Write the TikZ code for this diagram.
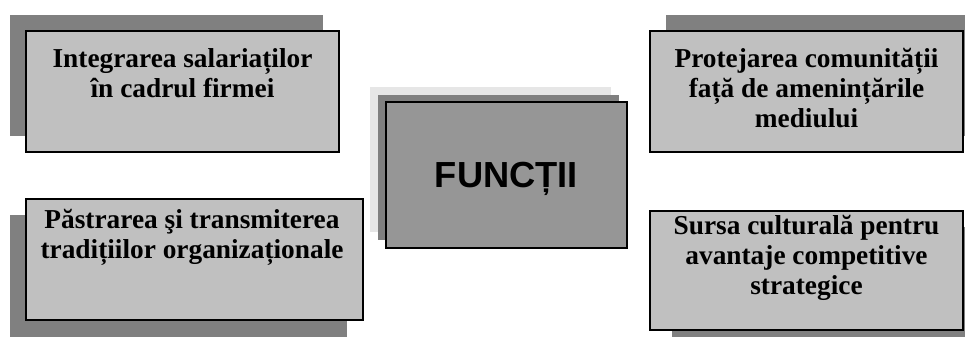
\documentclass[tikz,border=0pt]{standalone}
\usepackage{fontspec}
\setmainfont{Liberation Serif}
\newfontfamily\arialfont{Liberation Sans}
\definecolor{boxfill}{HTML}{C0C0C0}
\definecolor{shadowgray}{HTML}{808080}
\definecolor{centerfill}{HTML}{969696}
\definecolor{lightshadow}{HTML}{E6E6E6}
\begin{document}
\begin{tikzpicture}[x=0.75pt,y=-0.75pt,
  shade/.style={fill=shadowgray,draw=none},
  lshade/.style={fill=lightshadow,draw=none},
  mainbox/.style={fill=boxfill,draw=black,line width=1.6pt},
  centerbox/.style={fill=centerfill,draw=black,line width=1.6pt},
  txt/.style={font=\bfseries\fontsize{20.5}{22.2}\selectfont,align=center,inner sep=0pt,anchor=base},
  bigtxt/.style={font=\arialfont\bfseries\fontsize{27.2}{30}\selectfont,inner sep=0pt,anchor=base}]
\clip (0,0) rectangle (965,336);
\fill[white] (0,0) rectangle (965,336);
% top-left
\fill[shade] (10,15) rectangle (323,136);
\draw[mainbox] (26,31) rectangle (339,152);
\node[txt] (t1) at (182.5,97) {Integrarea salariaților\\în cadrul firmei};
% bottom-left
\fill[shade] (10,215) rectangle (347,340);
\draw[mainbox] (26,199) rectangle (363,320);
\node[txt] (t2) at (192,258) {Păstrarea şi transmiterea\\tradițiilor organizaționale};
% center
\fill[lshade] (370,87) rectangle (611,232);
\fill[shade] (378,95) rectangle (619,240);
\draw[centerbox] (386,102) rectangle (627,248);
\node[bigtxt] (tc) at (506.5,187) {FUNCȚII};
% top-right
\fill[shade] (666,15) rectangle (985,136);
\draw[mainbox] (650,31) rectangle (963,152);
\node[txt] (t3) at (806.5,127) {Protejarea comunității\\față de amenințările\\mediului};
% bottom-right
\fill[shade] (672,227) rectangle (985,345);
\draw[mainbox] (650,211) rectangle (963,330);
\node[txt] (t4) at (806.5,294) {Sursa culturală pentru\\avantaje competitive\\strategice};
\end{tikzpicture}
\end{document}
